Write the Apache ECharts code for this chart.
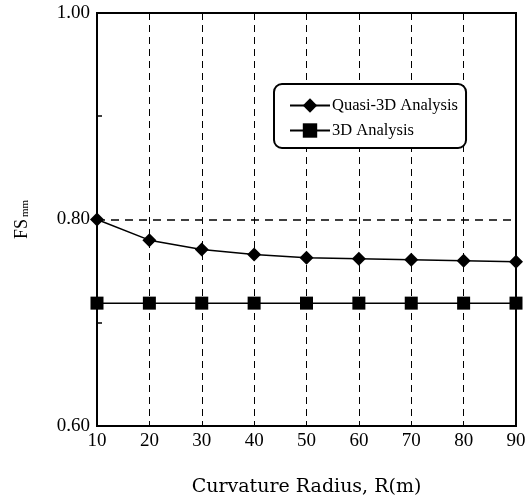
<!DOCTYPE html>
<html lang="en">
<head>
    <meta charset="UTF-8">
    <script src="https://cdn.jsdelivr.net/npm/echarts@6/dist/echarts.min.js"></script>
    <title>FSmm vs Curvature Radius</title>
    <style type="text/css">
        html, body { margin: 0; padding: 0; background: #fff; }
        #chart { width: 527px; height: 500px; }
    </style>
</head>
<body>
<div id="chart"></div>
<script type="text/javascript">
    // curvature radius R (m)
    const radius = [10, 20, 30, 40, 50, 60, 70, 80, 90];
    // FSmm values
    const quasi3D = [0.800, 0.780, 0.771, 0.766, 0.763, 0.762, 0.761, 0.760, 0.759];
    const full3D = [0.719, 0.719, 0.719, 0.719, 0.719, 0.719, 0.719, 0.719, 0.719];
    const yLabels = ['0.60', '0.80', '1.00'];

    const serif = 'Liberation Serif';
    const wide = 'DejaVu Serif';

    function pairs(xs, ys) {
        return xs.map(function (x, i) { return [x, ys[i]]; });
    }

    const myChart = echarts.init(document.getElementById('chart'));

    const option = {
        animation: false,
        backgroundColor: '#fff',
        grid: {
            left: 97, right: 11, top: 13, bottom: 74,
            outerBoundsMode: 'none',
            show: true,
            borderColor: '#000',
            borderWidth: 2
        },
        legend: {
            orient: 'vertical',
            left: 274,
            top: 84,
            padding: [13, 8, 9, 15],
            backgroundColor: '#fff',
            borderColor: '#000',
            borderWidth: 2,
            borderRadius: 8,
            itemWidth: 40,
            itemHeight: 18,
            itemGap: 8,
            textStyle: { fontFamily: serif, fontSize: 16.5, color: '#000', padding: [0, 0, 0, -3] },
            data: ['Quasi-3D Analysis', '3D Analysis']
        },
        xAxis: {
            type: 'value',
            min: 10, max: 90, interval: 10,
            name: 'Curvature Radius, R(m)',
            nameLocation: 'middle',
            nameGap: 52,
            nameTextStyle: { fontFamily: wide, fontSize: 19, color: '#000' },
            axisLine: { lineStyle: { color: '#000', width: 2 } },
            axisTick: { show: false },
            axisLabel: { fontFamily: serif, fontSize: 19, color: '#000', margin: 6 },
            splitLine: { show: true, lineStyle: { color: '#000', width: 1, type: [7, 5] } }
        },
        yAxis: {
            type: 'value',
            min: 0.6, max: 1.0, interval: 0.2,
            name: 'FS{sub|mm}',
            nameLocation: 'middle',
            nameRotate: 90,
            nameGap: 66,
            nameTextStyle: {
                fontFamily: serif, fontSize: 18, color: '#000',
                rich: { sub: { fontFamily: serif, fontSize: 11, color: '#000', verticalAlign: 'bottom', padding: [7, 0, 0, 2] } }
            },
            axisLine: { lineStyle: { color: '#000', width: 2 } },
            axisTick: { show: false },
            minorTick: { show: true, splitNumber: 2, length: -5, lineStyle: { color: '#000', width: 1.5 } },
            axisLabel: {
                fontFamily: serif, fontSize: 19, color: '#000', margin: 7,
                formatter: function (v) {
                    const i = Math.round((v - 0.6) / 0.2);
                    return yLabels[i] || '';
                }
            },
            splitLine: { show: true, lineStyle: { color: '#000', width: 1.5, type: [8, 6] } }
        },
        series: [
            {
                name: 'Quasi-3D Analysis',
                type: 'line',
                data: pairs(radius, quasi3D),
                symbol: 'diamond',
                symbolSize: 14,
                showAllSymbol: true,
                itemStyle: { color: '#000' },
                lineStyle: { color: '#000', width: 1.5 }
            },
            {
                name: '3D Analysis',
                type: 'line',
                data: pairs(radius, full3D),
                symbol: 'rect',
                symbolSize: 13,
                showAllSymbol: true,
                itemStyle: { color: '#000' },
                lineStyle: { color: '#000', width: 1.5 }
            }
        ]
    };

    myChart.setOption(option);
</script>
</body>
</html>
